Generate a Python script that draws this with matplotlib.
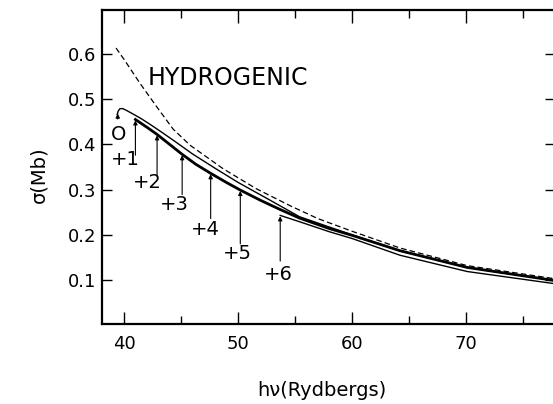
import matplotlib
matplotlib.use('Agg')
import matplotlib.pyplot as plt
import numpy as np
from matplotlib.ticker import MultipleLocator

plt.rcParams['font.family'] = ['DejaVu Sans']

# ---- data ----
# hydrogenic curve (dashed)
hyd_E = [39.3, 40.0, 41.4, 42.9, 44.3, 45.8, 48.7, 51.6, 54.6, 57.0, 60.0, 64.2, 70.1, 77.8]
hyd_s = [0.613, 0.588, 0.535, 0.482, 0.434, 0.398, 0.346, 0.302, 0.264, 0.236, 0.208, 0.171, 0.132, 0.103]

# neutral atom curve (thin solid, starts with a small hook)
neu_E = [39.40, 39.50, 39.65, 39.90, 40.30, 40.80, 41.50, 42.30, 43.30, 44.50, 46.0, 48.0, 50.0, 52.5, 55.4, 60.0, 64.2, 70.1, 77.8]
neu_s = [0.466, 0.474, 0.479, 0.479, 0.474, 0.467, 0.457, 0.444, 0.427, 0.406, 0.379, 0.347, 0.316, 0.281, 0.240, 0.200, 0.165, 0.128, 0.099]

# ions +1 ... +5 (they overlap into one heavy band)
ion_E = [41.0, 42.0, 42.9, 44.0, 45.1, 46.3, 47.6, 48.9, 50.2, 52.0, 53.7, 55.4, 58.0, 60.0, 64.2, 70.1, 77.8]
ion_s = [0.455, 0.438, 0.422, 0.400, 0.378, 0.356, 0.336, 0.317, 0.299, 0.276, 0.256, 0.237, 0.214, 0.199, 0.165, 0.128, 0.099]

# ion +6 (thin solid, slightly below the band)
ion6_E = [53.7, 55.4, 58.0, 60.0, 64.2, 70.1, 77.8]
ion6_s = [0.243, 0.229, 0.207, 0.192, 0.155, 0.119, 0.092]

# ionisation thresholds marked by arrows
thr_labels = ['O', '+1', '+2', '+3', '+4', '+5', '+6']
thr_E = [39.45, 41.0, 42.9, 45.1, 47.6, 50.2, 53.7]

xticks = [40, 50, 60, 70]
yticks = [0.1, 0.2, 0.3, 0.4, 0.5, 0.6]

# ---- figure ----
fig = plt.figure(figsize=(5.53, 4.04), dpi=100)
ax = fig.add_axes([102 / 553, 80 / 404, 453 / 553, 314 / 404])

ax.plot(hyd_E, hyd_s, color='black', lw=0.9, ls=(0, (4.5, 2.5)))
ax.plot(neu_E, neu_s, color='black', lw=1.0)
ax.plot(ion_E, ion_s, color='black', lw=2.0)
ax.plot(ion6_E, ion6_s, color='black', lw=1.0)

# arrows: tip on the curve at the threshold, tail + label below
tail_dy = [0.012, 0.077, 0.090, 0.087, 0.098, 0.117, 0.099]
label_pos = [(39.56, 0.421), (40.13, 0.367), (42.06, 0.316), (44.39, 0.268),
             (47.11, 0.212), (49.91, 0.158), (53.51, 0.112)]
curves = [(neu_E, neu_s)] + [(ion_E, ion_s)] * 5 + [(ion6_E, ion6_s)]
for lab, e, (cE, cS), dy, (lx, ly) in zip(thr_labels, thr_E, curves, tail_dy, label_pos):
    tip = float(np.interp(e, cE, cS))
    ax.annotate('', xy=(e, tip - 0.002), xytext=(e, tip - 0.002 - dy),
                arrowprops=dict(arrowstyle='-|>', color='black', lw=0.8,
                                mutation_scale=6, shrinkA=0, shrinkB=0))
    ax.text(lx, ly, lab, ha='center', va='center', fontsize=14)

ax.text(42.1, 0.547, 'HYDROGENIC', ha='left', va='center', fontsize=17)

ax.set_xlim(38.07, 77.8)
ax.set_ylim(0.003, 0.697)
ax.set_xticks(xticks)
ax.set_yticks(yticks)
ax.set_yticklabels([f'{v:.1f}' for v in yticks])
ax.xaxis.set_minor_locator(MultipleLocator(5))
ax.tick_params(which='both', direction='in', top=True, right=True, labelsize=13)
ax.tick_params(axis='x', which='major', length=9, width=1, pad=8)
ax.tick_params(axis='x', which='minor', length=6, width=1)
ax.tick_params(axis='y', which='major', length=7, width=1, pad=4)
for sp in ax.spines.values():
    sp.set_linewidth(1.6)

fig.text(322 / 553, 1 - 391 / 404, 'h\u03bd(Rydbergs)', ha='center', va='center', fontsize=14)
fig.text(39 / 553, 1 - 175 / 404, '\u03c3(Mb)', ha='center', va='center', rotation=90, fontsize=14)

fig.savefig('out.png', dpi=100)
